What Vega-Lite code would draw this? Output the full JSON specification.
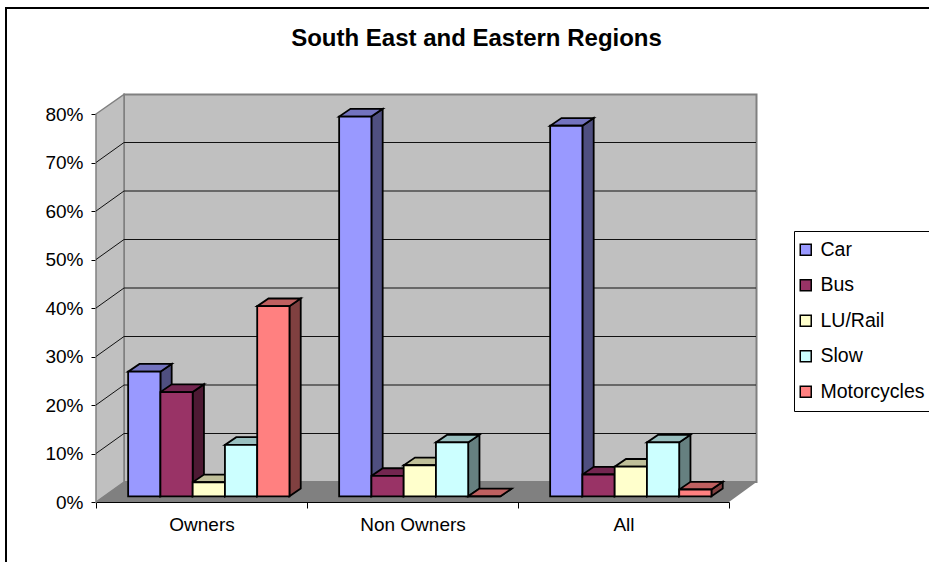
{
  "$schema": "https://vega.github.io/schema/vega-lite/v6.json",
  "width": 633,
  "height": 388,
  "autosize": {"type": "none"},
  "padding": {"left": 96, "top": 114, "right": 200, "bottom": 60},
  "background": "white",
  "title": {
    "text": "South East and Eastern Regions",
    "font": "Liberation Sans",
    "fontSize": 24,
    "fontWeight": "bold",
    "color": "black",
    "anchor": "middle",
    "dx": 64,
    "offset": -68,
    "baseline": "bottom"
  },
  "config": {
    "view": {"stroke": null},
    "font": "Liberation Sans",
    "axis": {
      "labelFont": "Liberation Sans",
      "labelFontSize": 19,
      "labelColor": "black",
      "domainColor": "black",
      "tickColor": "black",
      "domainWidth": 1,
      "tickWidth": 1,
      "grid": false,
      "title": null,
      "zindex": 1
    }
  },
  "datasets": {
    "modeShare": [
      {"group": "Owners", "mode": "Car", "value": 0.257},
      {"group": "Owners", "mode": "Bus", "value": 0.215},
      {"group": "Owners", "mode": "LU/Rail", "value": 0.029},
      {"group": "Owners", "mode": "Slow", "value": 0.106},
      {"group": "Owners", "mode": "Motorcycles", "value": 0.392},
      {"group": "Non Owners", "mode": "Car", "value": 0.783},
      {"group": "Non Owners", "mode": "Bus", "value": 0.042},
      {"group": "Non Owners", "mode": "LU/Rail", "value": 0.064},
      {"group": "Non Owners", "mode": "Slow", "value": 0.111},
      {"group": "Non Owners", "mode": "Motorcycles", "value": 0},
      {"group": "All", "mode": "Car", "value": 0.764},
      {"group": "All", "mode": "Bus", "value": 0.045},
      {"group": "All", "mode": "LU/Rail", "value": 0.061},
      {"group": "All", "mode": "Slow", "value": 0.111},
      {"group": "All", "mode": "Motorcycles", "value": 0.014}
    ],
    "levels": [
      {"level": 0.1}, {"level": 0.2}, {"level": 0.3}, {"level": 0.4},
      {"level": 0.5}, {"level": 0.6}, {"level": 0.7}
    ],
    "single": [{"level": 0}]
  },
  "layer": [
    {
      "description": "Outer chart frame, running past the window on the right and bottom",
      "data": {"name": "single"},
      "mark": {"type": "rect", "fill": null, "stroke": "black", "strokeWidth": 2},
      "encoding": {
        "x": {"value": -90},
        "x2": {"value": 900},
        "y": {"value": -106},
        "y2": {"value": 520}
      }
    },
    {
      "description": "Back wall",
      "data": {"name": "single"},
      "mark": {"type": "rect", "fill": "#C0C0C0", "stroke": "#808080", "strokeWidth": 2},
      "encoding": {
        "x": {"value": 28},
        "x2": {"value": 660.5},
        "y": {"value": -19.5},
        "y2": {"value": 368}
      }
    },
    {
      "description": "Side wall",
      "data": {"name": "single"},
      "mark": {"type": "point", "filled": true, "size": 4, "fill": "#C0C0C0", "stroke": "#808080", "strokeWidth": 1.5, "opacity": 1, "shape": "M0,0L28,-19.5L28,368L0,388Z"},
      "encoding": {"x": {"value": 0}, "y": {"value": 0}}
    },
    {
      "description": "Floor",
      "data": {"name": "single"},
      "mark": {"type": "point", "filled": true, "size": 4, "fill": "#808080", "opacity": 1, "shape": "M0,388L633,388L660.5,368L28,368Z"},
      "encoding": {"x": {"value": 0}, "y": {"value": 0}}
    },
    {
      "description": "Gridlines on the back wall",
      "data": {"name": "levels"},
      "mark": {"type": "rule", "stroke": "#111111", "strokeWidth": 1, "yOffset": -20},
      "encoding": {
        "x": {"value": 28},
        "x2": {"value": 660},
        "y": {"field": "level", "type": "quantitative", "scale": {"domain": [0, 0.8]}}
      }
    },
    {
      "description": "Gridlines on the side wall",
      "data": {"name": "levels"},
      "mark": {"type": "point", "size": 4, "stroke": "#111111", "strokeWidth": 1, "fill": null, "filled": false, "opacity": 1, "shape": "M0,0L28,-20"},
      "encoding": {
        "x": {"value": 0},
        "y": {"field": "level", "type": "quantitative", "scale": {"domain": [0, 0.8]}}
      }
    },
    {
      "description": "Right-hand faces of the columns, as tall as each value",
      "data": {"name": "modeShare"},
      "transform": [
        {"calculate": "'M16.1,0L27.4,-7.7L27.4,' + (datum.value * 485 - 7.7) + 'L16.1,' + (datum.value * 485) + 'Z'", "as": "sideFace"}
      ],
      "mark": {"type": "point", "filled": true, "size": 4, "stroke": "black", "strokeWidth": 1.8, "opacity": 1, "yOffset": -5.7},
      "encoding": {
        "x": {"field": "group", "type": "nominal", "sort": ["Owners", "Non Owners", "All"], "scale": {"padding": 0}},
        "xOffset": {"field": "mode", "type": "nominal", "sort": ["Car", "Bus", "LU/Rail", "Slow", "Motorcycles"], "scale": {"paddingInner": 0, "paddingOuter": 0.77, "align": 0.647}},
        "y": {"field": "value", "type": "quantitative", "scale": {"domain": [0, 0.8]}},
        "shape": {"field": "sideFace", "type": "nominal", "scale": null, "legend": null},
        "fill": {"field": "mode", "type": "nominal", "legend": null, "scale": {"domain": ["Car", "Bus", "LU/Rail", "Slow", "Motorcycles"], "range": ["#4F4F80", "#4D1933", "#808066", "#668080", "#804040"]}}
      }
    },
    {
      "description": "Top faces of the columns",
      "data": {"name": "modeShare"},
      "mark": {"type": "point", "filled": true, "size": 4, "stroke": "black", "strokeWidth": 1.8, "opacity": 1, "yOffset": -5.7, "shape": "M-16.1,0L16.1,0L27.4,-7.7L-4.8,-7.7Z"},
      "encoding": {
        "x": {"field": "group", "type": "nominal", "sort": ["Owners", "Non Owners", "All"], "scale": {"padding": 0}},
        "xOffset": {"field": "mode", "type": "nominal", "sort": ["Car", "Bus", "LU/Rail", "Slow", "Motorcycles"], "scale": {"paddingInner": 0, "paddingOuter": 0.77, "align": 0.647}},
        "y": {"field": "value", "type": "quantitative", "scale": {"domain": [0, 0.8]}},
        "fill": {"field": "mode", "type": "nominal", "legend": null, "scale": {"domain": ["Car", "Bus", "LU/Rail", "Slow", "Motorcycles"], "range": ["#7373BF", "#732650", "#BFBF99", "#99BFBF", "#BF6060"]}}
      }
    },
    {
      "description": "Front faces of the columns, with both axes and the legend",
      "data": {"name": "modeShare"},
      "mark": {"type": "bar", "stroke": "black", "strokeWidth": 1.8, "yOffset": -5.7, "y2Offset": -5.7},
      "encoding": {
        "x": {
          "field": "group",
          "type": "nominal",
          "sort": ["Owners", "Non Owners", "All"],
          "scale": {"padding": 0},
          "axis": {"labelAngle": 0, "labelAlign": "center", "tickBand": "extent", "tickSize": 6, "labelPadding": 16, "title": null}
        },
        "xOffset": {"field": "mode", "type": "nominal", "sort": ["Car", "Bus", "LU/Rail", "Slow", "Motorcycles"], "scale": {"paddingInner": 0, "paddingOuter": 0.77, "align": 0.647}},
        "y": {
          "field": "value",
          "type": "quantitative",
          "stack": null,
          "scale": {"domain": [0, 0.8]},
          "axis": {"format": ".0%", "values": [0, 0.1, 0.2, 0.3, 0.4, 0.5, 0.6, 0.7, 0.8], "tickSize": 5, "labelPadding": 8, "title": null}
        },
        "y2": {"datum": 0},
        "color": {
          "field": "mode",
          "type": "nominal",
          "sort": ["Car", "Bus", "LU/Rail", "Slow", "Motorcycles"],
          "scale": {"domain": ["Car", "Bus", "LU/Rail", "Slow", "Motorcycles"], "range": ["#9999FF", "#993366", "#FFFFCC", "#CCFFFF", "#FF8080"]},
          "legend": {
            "orient": "none",
            "legendX": 698,
            "legendY": 117,
            "title": null,
            "fillColor": "white",
            "strokeColor": "black",
            "padding": 9,
            "symbolType": "square",
            "symbolSize": 121,
            "symbolStrokeColor": "black",
            "symbolStrokeWidth": 1.5,
            "symbolOffset": -7,
            "labelFont": "Liberation Sans",
            "labelFontSize": 19.5,
            "labelColor": "black",
            "labelOffset": 5,
            "rowPadding": 14.5,
            "labelLimit": 200
          }
        }
      }
    }
  ],
  "resolve": {"scale": {"fill": "independent"}}
}
